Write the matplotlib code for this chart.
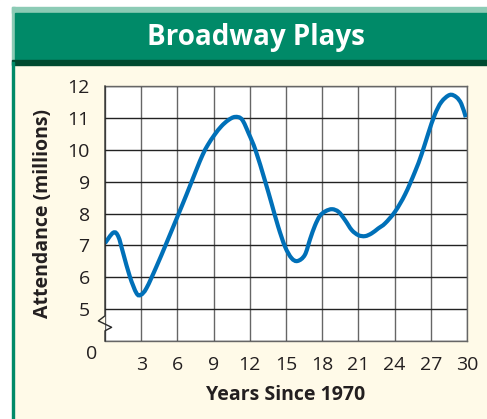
import matplotlib
matplotlib.use('Agg')
import matplotlib.pyplot as plt
from matplotlib.patches import Rectangle, PathPatch
from matplotlib.path import Path

plt.rcParams['font.family'] = ['Open Sans', 'DejaVu Sans']

# data
years = [0, 0.69, 1.1, 1.51, 2.06, 2.61, 2.97, 3.44, 4.27, 5.09, 6.0, 6.74, 7.57,
         8.09, 8.52, 9.08, 9.65, 10.22, 10.78, 11.35, 11.92, 12.48, 13.24, 13.8,
         14.35, 14.92, 15.46, 15.96, 16.56, 17.0, 17.4, 17.8, 18.27, 18.82, 19.36,
         19.9, 20.45, 21.0, 21.55, 22.09, 22.64, 23.21, 24.04, 24.87, 25.68,
         26.23, 26.78, 27.33, 27.88, 28.57, 29.12, 29.53, 29.9]
attendance = [7.07, 7.4, 7.28, 6.75, 6.02, 5.5, 5.45, 5.66, 6.34, 7.07, 7.9, 8.58, 9.37,
              9.84, 10.15, 10.47, 10.74, 10.93, 11.03, 10.95, 10.5, 9.98, 9.05, 8.32,
              7.59, 6.96, 6.6, 6.51, 6.7, 7.2, 7.62, 7.92, 8.07, 8.135, 8.05,
              7.79, 7.48, 7.32, 7.29, 7.375, 7.53, 7.69, 8.06, 8.6, 9.3,
              9.85, 10.5, 11.1, 11.5, 11.72, 11.65, 11.44, 11.02]
x_ticks = [3, 6, 9, 12, 15, 18, 21, 24, 27, 30]
y_ticks = [5, 6, 7, 8, 9, 10, 11, 12]

W, H = 487, 419
cream = '#fffae8'
green = '#008a68'

fig = plt.figure(figsize=(W / 100, H / 100), dpi=100, facecolor=cream)

def box(x0, y0, x1, y1, color):
    # pixel box (top-left origin) -> figure rectangle
    fig.patches.append(Rectangle((x0 / W, 1 - y1 / H), (x1 - x0) / W, (y1 - y0) / H,
                                 transform=fig.transFigure, color=color, zorder=0))

box(0, 0, W, 7, 'white')
box(0, 0, 12, H, 'white')
box(12, 7, W, 13, '#8ccbb5')
box(12, 7, 15, 62, '#8ccbb5')
box(15, 13, W, 60, green)
box(12, 60, W, 65, '#004a30')
box(12, 62, 14, H, green)

fig.text(256 / W, 1 - 38 / H, 'Broadway Plays', color='white', fontsize=20,
         fontweight='bold', ha='center', va='center')

ax = fig.add_axes([105 / W, 78 / H, 362 / W, 255 / H])
ax.set_facecolor('white')
ax.set_xlim(0, 30)
ax.set_ylim(4, 12)

# grid
for x in range(0, 31, 3):
    ax.axvline(x, color='#666666', lw=1, zorder=1)
for y in range(4, 13):
    ax.axhline(y, color='#222222', lw=1, zorder=1)

# smooth curve through the read points (Catmull-Rom as cubic Bezier segments)
pts = list(zip(years, attendance))
verts = [pts[0]]
codes = [Path.MOVETO]
for i in range(len(pts) - 1):
    p0 = pts[max(i - 1, 0)]
    p1 = pts[i]
    p2 = pts[i + 1]
    p3 = pts[min(i + 2, len(pts) - 1)]
    c1 = (p1[0] + (p2[0] - p0[0]) / 6, p1[1] + (p2[1] - p0[1]) / 6)
    c2 = (p2[0] - (p3[0] - p1[0]) / 6, p2[1] - (p3[1] - p1[1]) / 6)
    verts += [c1, c2, p2]
    codes += [Path.CURVE4] * 3
ax.add_patch(PathPatch(Path(verts, codes), facecolor='none', edgecolor='#0070b8',
                       lw=3, capstyle='butt', zorder=3))

ax.set_xticks(x_ticks)
ax.set_yticks(y_ticks)
ax.tick_params(length=0, labelsize=14, colors='#231f20')
ax.tick_params(axis='x', pad=11)
ax.tick_params(axis='y', pad=11)

for s in ['top', 'right', 'bottom']:
    ax.spines[s].set_color('#666666')
    ax.spines[s].set_linewidth(1)
ax.spines['left'].set_visible(False)

# left axis with the break mark
ax.plot([0, 0, -0.55, 0.55, 0, 0], [12, 4.79, 4.63, 4.43, 4.32, 4],
        color='#2a2a2a', lw=1, clip_on=False, zorder=4)

ax.text(-1.1, 3.58, '0', fontsize=14, color='#231f20', ha='center', va='center')

ax.set_xlabel('Years Since 1970', fontsize=14, fontweight='bold', color='#231f20',
              labelpad=8)
ax.set_ylabel('Attendance (millions)', fontsize=14, fontweight='bold', color='#231f20',
              labelpad=10)

plt.savefig('out.png', dpi=100, facecolor=cream)
